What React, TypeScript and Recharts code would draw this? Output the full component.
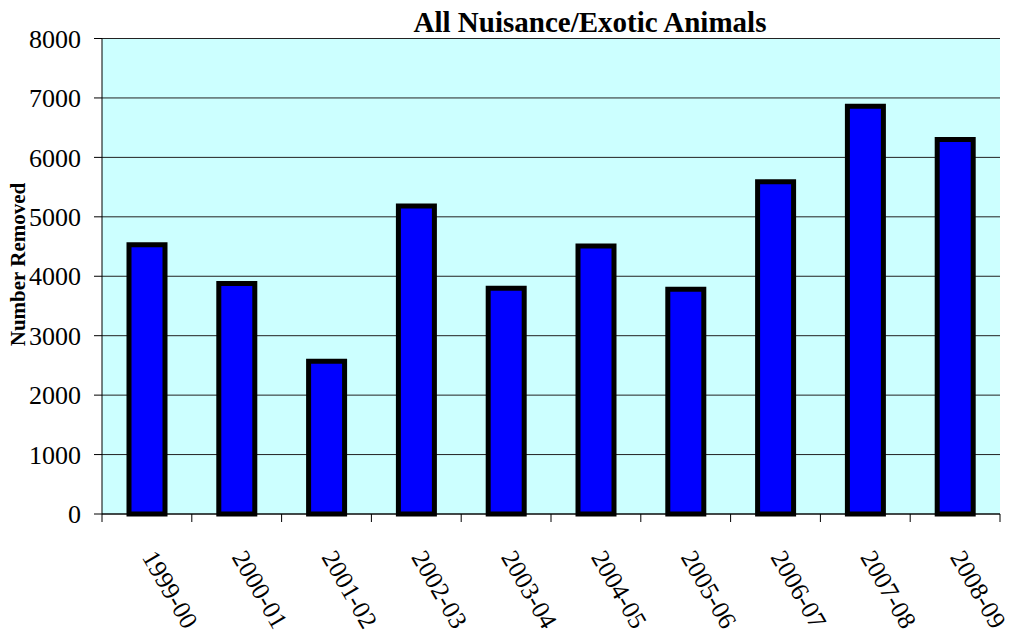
import { Bar, BarChart, CartesianGrid, XAxis, YAxis } from "recharts"

const categories = [
    "1999-00",
    "2000-01",
    "2001-02",
    "2002-03",
    "2003-04",
    "2004-05",
    "2005-06",
    "2006-07",
    "2007-08",
    "2008-09",
]
const removed = [4530, 3880, 2570, 5180, 3800, 4510, 3780, 5590, 6860, 6300]
const yTicks = [0, 1000, 2000, 3000, 4000, 5000, 6000, 7000, 8000]

const data = categories.map((name, i) => ({ name, value: removed[i] }))

const FONT = "'Liberation Serif', 'Times New Roman', serif"

// category labels sit between tick marks, ticks go on the band edges
const XTick = (props: any) => {
    const { x, y, payload, index, visibleTicksCount } = props
    const count = visibleTicksCount || categories.length
    const bw = (Number(props.width) || 898) / count
    const tx = x - 5.5
    const ty = y + 43
    return (
        <g>
            <line x1={x - bw / 2} y1={y} x2={x - bw / 2} y2={y + 8} stroke="#000" />
            {index === count - 1 && (
                <line x1={x + bw / 2} y1={y} x2={x + bw / 2} y2={y + 8} stroke="#000" />
            )}
            <text
                x={tx}
                y={ty}
                transform={`rotate(60 ${tx} ${ty})`}
                textAnchor="start"
                fontFamily={FONT}
                fontSize={25.5}
                fill="#000"
            >
                {payload.value}
            </text>
        </g>
    )
}

export default function App() {
    return (
        <div
            style={{
                position: "absolute",
                left: 0,
                top: 0,
                width: 1011,
                height: 637,
                background: "#fff",
            }}
        >
            <BarChart
                width={1011}
                height={637}
                data={data}
                margin={{ top: 38.5, right: 11, left: 0, bottom: 0 }}
            >
                <CartesianGrid
                    vertical={false}
                    fill="#CCFFFF"
                    fillOpacity={1}
                    stroke="#222"
                />
                <XAxis
                    dataKey="name"
                    height={123}
                    interval={0}
                    tickSize={0}
                    tickMargin={0}
                    tickLine={false}
                    axisLine={{ stroke: "#000" }}
                    tick={<XTick />}
                />
                <YAxis
                    width={102}
                    domain={[0, 8000]}
                    ticks={yTicks}
                    interval={0}
                    tickSize={8}
                    tickMargin={13}
                    axisLine={{ stroke: "#000" }}
                    tickLine={{ stroke: "#000" }}
                    tick={{ fontFamily: FONT, fontSize: 26, fill: "#000" }}
                />
                <Bar
                    dataKey="value"
                    fill="#0000FF"
                    stroke="#000"
                    strokeWidth={5}
                    barSize={36}
                    isAnimationActive={false}
                />
            </BarChart>
            <svg
                width={1011}
                height={637}
                style={{ position: "absolute", left: 0, top: 0, pointerEvents: "none" }}
            >
                <text
                    x={590}
                    y={31.5}
                    textAnchor="middle"
                    fontFamily={FONT}
                    fontWeight="bold"
                    fontSize={29}
                    fill="#000"
                >
                    All Nuisance/Exotic Animals
                </text>
                <text
                    transform="translate(25 264.5) rotate(-90)"
                    textAnchor="middle"
                    fontFamily={FONT}
                    fontWeight="bold"
                    fontSize={21}
                    fill="#000"
                >
                    Number Removed
                </text>
            </svg>
        </div>
    )
}
